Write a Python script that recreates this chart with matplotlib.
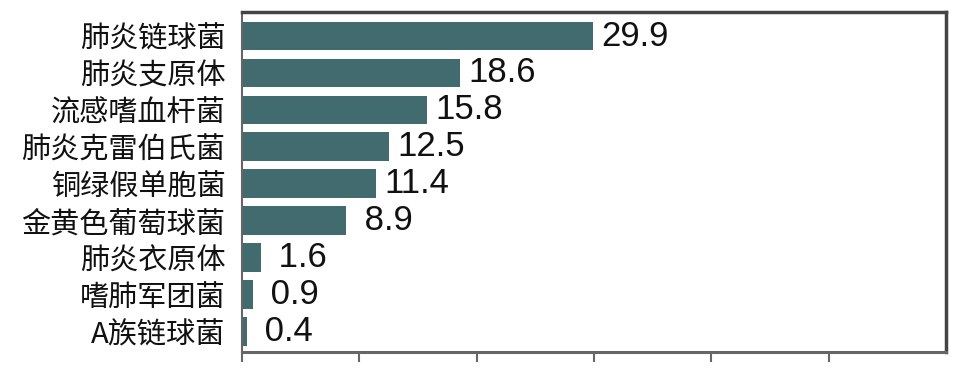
import matplotlib
matplotlib.use("Agg")
import matplotlib.pyplot as plt

categories = ["肺炎链球菌", "肺炎支原体", "流感嗜血杆菌", "肺炎克雷伯氏菌", "铜绿假单胞菌",
              "金黄色葡萄球菌", "肺炎衣原体", "嗜肺军团菌", "A族链球菌"]
values = [29.9, 18.6, 15.8, 12.5, 11.4, 8.9, 1.6, 0.9, 0.4]
xticks = [0, 10, 20, 30, 40, 50, 60]

plt.rcParams['font.family'] = ['Noto Sans CJK SC', 'DejaVu Sans']

fig = plt.figure(figsize=(9.62, 3.78), dpi=100)
ax = fig.add_axes([0.2516, 0.0688, 0.7318, 0.8994])

y = list(range(len(categories)))
bars = ax.barh(y, values, height=0.78, color="#426b70")
ax.set_ylim(len(categories) - 0.45, -0.65)
ax.set_xlim(xticks[0], xticks[-1])
ax.set_xticks(xticks[:-1])
ax.set_xticklabels([])
ax.set_yticks(y)
ax.set_yticklabels(categories, fontsize=21, color="#111111")
ax.tick_params(axis='y', length=0, pad=12)
ax.tick_params(axis='x', direction='out', length=7, width=1.5, color="#666666")

for side in ["top", "right"]:
    ax.spines[side].set_linewidth(2.5)
    ax.spines[side].set_color("#444444")
ax.spines["bottom"].set_linewidth(2.2)
ax.spines["bottom"].set_color("#666666")
ax.spines["left"].set_linewidth(1.5)
ax.spines["left"].set_color("#666666")

labels = ["%4.1f" % v for v in values]
ax.bar_label(bars, labels=labels, padding=6, fontsize=25,
             family=['Liberation Sans', 'DejaVu Sans'], color="#111111")

fig.savefig("out.png", dpi=100)
